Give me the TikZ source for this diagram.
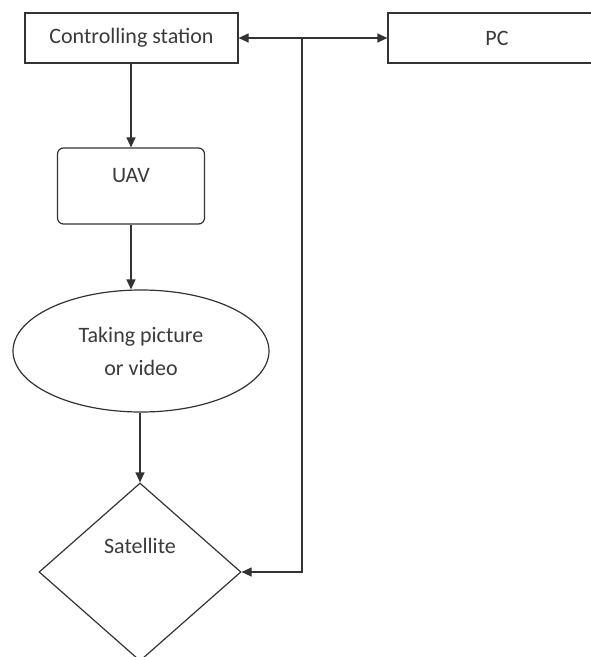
\documentclass[tikz,border=0pt]{standalone}
\usepackage{fontspec}
\setmainfont{Carlito}
\usetikzlibrary{shapes.geometric,arrows.meta}
\definecolor{linec}{HTML}{333333}
\definecolor{textc}{HTML}{3A3A3A}
\begin{document}
\begin{tikzpicture}[x=1pt,y=-1pt,
  every node/.style={font=\fontsize{22}{33}\selectfont, text=textc, draw=linec, line width=1.2pt, inner sep=0pt},
  box/.style={rectangle, minimum height=50pt},
  rbox/.style={rectangle, rounded corners=6pt, minimum width=147pt, minimum height=76pt},
  oval/.style={ellipse, minimum width=256pt, minimum height=122pt, align=center},
  dmd/.style={diamond, minimum width=202pt, minimum height=178pt},
  conn/.style={draw=linec, line width=1.2pt},
  tip/.style={-{Triangle[length=10pt,width=9pt]}}
]
\clip (0,0) rectangle (591,657);
\node[box, minimum width=213pt] (cs) at (131.5,38) {Controlling station};
\node[box, minimum width=218pt] (pc) at (497,38) {PC};
\node[rbox, text height=16pt, text depth=24pt] (uav) at (131,186) {UAV};
\node[oval] (ell) at (141,351) {Taking picture\\or video};
\node[dmd, text height=16pt, text depth=54pt] (dia) at (140,572) {Satellite};
\coordinate (j) at (302,38);
\draw[conn, tip] (uav.north |- cs.south) -- (uav.north);
\draw[conn, tip] (uav.south) -- (uav.south |- ell.north);
\draw[conn, tip] (dia.north |- ell.south) -- (dia.north);
\draw[conn, {Triangle[length=10pt,width=9pt]}-{Triangle[length=10pt,width=9pt]}] (cs.east) -- (pc.west);
\draw[conn, tip] (j) |- (dia.east);
\end{tikzpicture}
\end{document}
